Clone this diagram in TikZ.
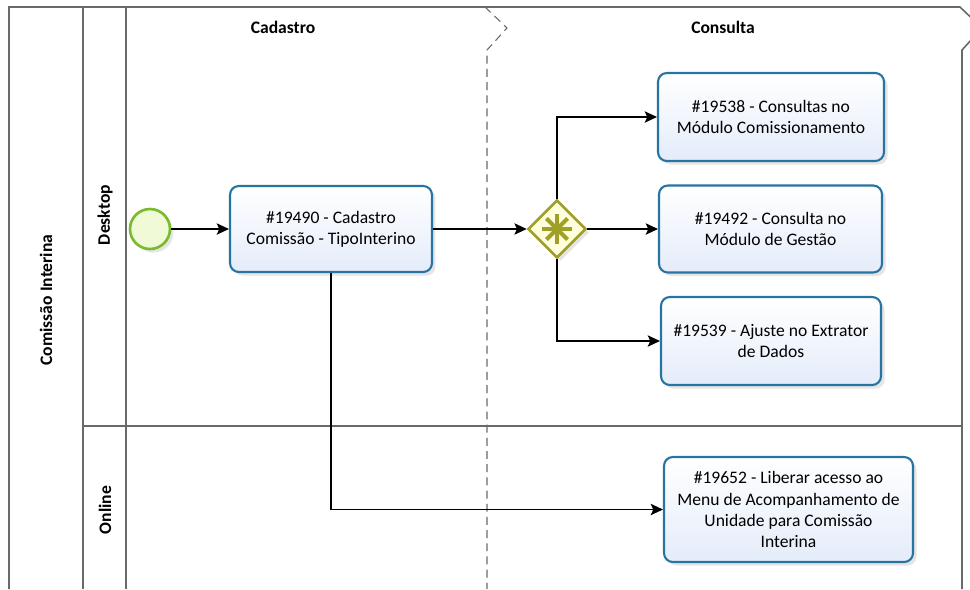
\documentclass[tikz,border=0pt]{standalone}
\usepackage{fontspec}
\setmainfont{Carlito}
\usetikzlibrary{arrows.meta,shapes.geometric,shadows}
\definecolor{taskblue}{RGB}{40,116,160}
\definecolor{taskfill}{RGB}{228,236,250}
\definecolor{gwolive}{RGB}{160,160,40}
\definecolor{gwfill}{RGB}{255,255,222}
\definecolor{startgreen}{RGB}{122,186,46}
\definecolor{startfill}{RGB}{240,250,215}
\definecolor{poolgray}{RGB}{105,105,105}
\tikzset{
  task/.style={draw=taskblue, line width=1.2pt, rounded corners=5pt, top color=white, bottom color=taskfill,
    align=center, font=\fontsize{10}{12}\selectfont,
    drop shadow={opacity=0.2, shadow xshift=2pt, shadow yshift=-2pt}},
  flow/.style={-{Stealth[length=7pt,width=6.5pt,inset=1.5pt]}, line width=0.7pt},
  lane/.style={draw=poolgray, line width=0.6pt},
  header/.style={font=\bfseries\fontsize{10}{12}\selectfont},
}
\begin{document}
\begin{tikzpicture}[x=0.02cm, y=-0.02cm]
        \clip (0,0) rectangle (970,589);
        \fill[white] (0,0) rectangle (970,589);
        % pool and lanes
        \draw[lane, line width=0.9pt] (9,589) -- (9,7) -- (960,7) -- (982,28) -- (962,50) -- (962,589);
        \draw[lane] (83,7) -- (83,589);
        \draw[lane] (126,7) -- (126,589);
        \draw[lane] (83,426) -- (962,426);
        \draw[lane, dash pattern=on 4.5pt off 3pt] (485,7) -- (507,28) -- (487,50) -- (487,589);

        \node[header] (cadastro) at (283,27) {Cadastro};
        \node[header] (consulta) at (723,27) {Consulta};
        \node[header, rotate=90] (pool) at (46,300) {Comissão Interina};
        \node[header, rotate=90] (desktop) at (105,215) {Desktop};
        \node[header, rotate=90] (online) at (105,510) {Online};

        % events, gateway and tasks
        \node[circle, draw=startgreen, line width=1.5pt, fill=startfill, minimum size=0.8cm,
              drop shadow={opacity=0.2, shadow xshift=2pt, shadow yshift=-2pt}] (start) at (150,229) {};
        \node[task, minimum width=4.04cm, minimum height=1.72cm] (t19490) at (331,229) {\#19490 - Cadastro\\Comissão - TipoInterino};
        \node[diamond, draw=gwolive, line width=1.5pt, fill=gwfill, minimum width=1.16cm, minimum height=1.16cm, inner sep=0pt,
              drop shadow={opacity=0.2, shadow xshift=2pt, shadow yshift=-2pt}] (gw) at (557,229) {};
        \foreach \a in {0,45,90,135}
            \draw[gwolive, line width=2.4pt] (gw.center) ++(\a:0.3cm) -- ++(\a+180:0.6cm);
        \node[task, minimum width=4.52cm, minimum height=1.76cm] (t19538) at (771,117) {\#19538 - Consultas no\\Módulo Comissionamento};
        \node[task, minimum width=4.46cm, minimum height=1.74cm] (t19492) at (770.5,229) {\#19492 - Consulta no\\Módulo de Gestão};
        \node[task, minimum width=4.40cm, minimum height=1.76cm] (t19539) at (771,341) {\#19539 - Ajuste no Extrator\\de Dados};
        \node[task, minimum width=4.98cm, minimum height=2.10cm] (t19652) at (788.5,509.5) {\#19652 - Liberar acesso ao\\Menu de Acompanhamento de\\Unidade para Comissão\\Interina};

        % flows
        \draw[flow] (start) -- (t19490);
        \draw[flow] (t19490) -- (gw);
        \draw[flow] (gw.north) |- (t19538);
        \draw[flow] (gw) -- (t19492);
        \draw[flow] (gw.south) |- (t19539);
        \draw[flow] (t19490.south) |- (t19652);
    \end{tikzpicture}
\end{document}
